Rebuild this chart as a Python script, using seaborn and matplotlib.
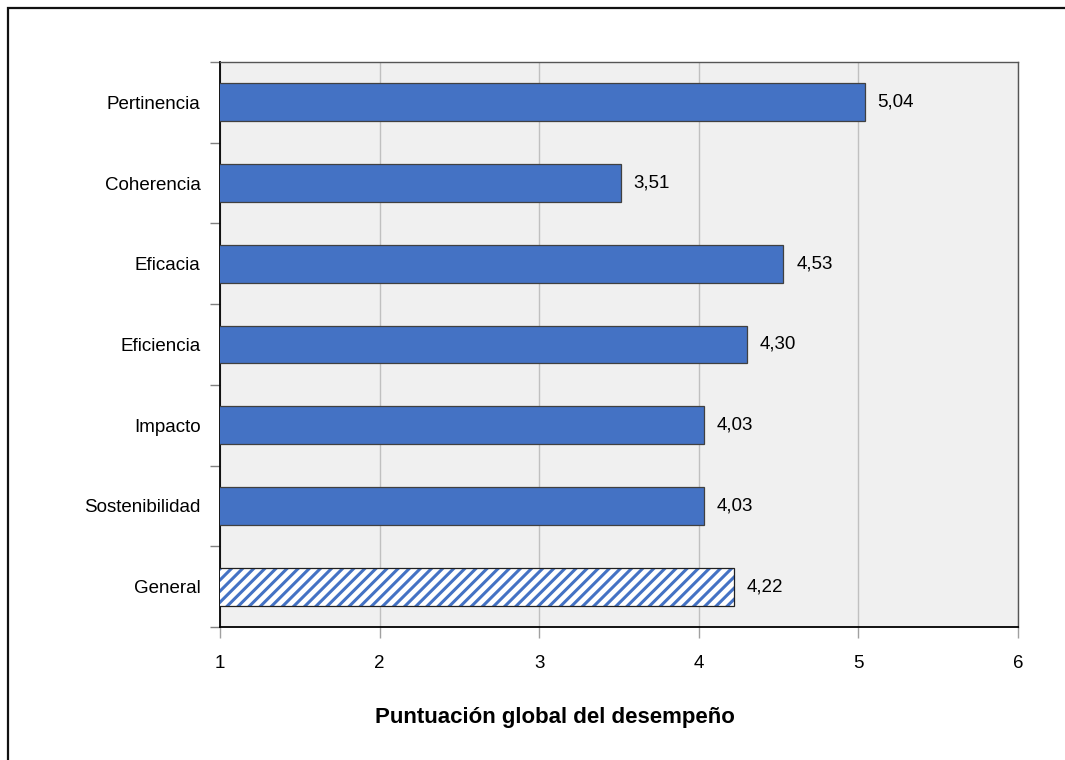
import matplotlib
matplotlib.use("Agg")
import matplotlib.pyplot as plt
import seaborn as sns
import pandas as pd
from matplotlib.patches import Rectangle
from matplotlib import font_manager

categories = ["Pertinencia", "Coherencia", "Eficacia", "Eficiencia", "Impacto", "Sostenibilidad", "General"]
values = [5.04, 3.51, 4.53, 4.30, 4.03, 4.03, 4.22]
x_ticks = [1, 2, 3, 4, 5, 6]
x_label = "Puntuación global del desempeño"

sns.set_style("white")
names = {f.name for f in font_manager.fontManager.ttflist}
fam = "Liberation Sans Narrow" if "Liberation Sans Narrow" in names else "Liberation Sans"
plt.rcParams["font.family"] = [fam, "DejaVu Sans"]
plt.rcParams["hatch.linewidth"] = 2.2
plt.rcParams["text.color"] = "black"
plt.rcParams["xtick.color"] = "black"
plt.rcParams["ytick.color"] = "black"

df = pd.DataFrame({"cat": categories, "val": values})

fig = plt.figure(figsize=(10.65, 7.6), dpi=100)
ax = fig.add_axes([220/1065, 1-627/760, (1018-220)/1065, (627-62)/760])
ax.set_facecolor("#f0f0f0")

blue = "#4472C4"
sns.barplot(data=df, x="val", y="cat", orient="h", color=blue, saturation=1,
            width=0.47, edgecolor="#404040", linewidth=0.9, ax=ax, zorder=3)

ax.set_xlim(1, 6)
ax.set_ylim(len(categories) - 0.5, -0.5)

# hatched "General" bar
p = ax.patches[-1]
p.set_facecolor("white")
p.set_edgecolor(blue)
p.set_hatch("///")
p.set_linewidth(0)
ax.add_patch(Rectangle(p.get_xy(), p.get_width(), p.get_height(), fill=False,
                       edgecolor="#202020", linewidth=0.9, zorder=4))

# value labels
for i, v in enumerate(values):
    ax.text(v + 0.08, i, f"{v:.2f}".replace(".", ","), va="center", ha="left",
            fontsize=13.5, color="black", zorder=5)

ax.set_xticks(x_ticks)
ax.set_xticklabels([str(t) for t in x_ticks], fontsize=13.5)
ax.set_yticks(range(len(categories)))
ax.set_yticklabels(categories, fontsize=13.5)
ax.set_yticks([i - 0.5 for i in range(len(categories) + 1)], minor=True)
ax.tick_params(axis="y", which="major", left=True, length=0, pad=14, labelcolor="black")
ax.tick_params(axis="y", which="minor", left=True, length=7, color="#808080", width=1)
ax.tick_params(axis="x", which="major", bottom=True, length=8, color="#a0a0a0", width=1,
               pad=12, direction="out", labelcolor="black")
ax.set_xlabel("")
ax.set_ylabel("")

ax.grid(axis="x", color="#c0c0c0", linewidth=1, zorder=0)
ax.set_axisbelow(True)

for s in ["left", "bottom"]:
    ax.spines[s].set_color("#000000")
    ax.spines[s].set_linewidth(1.3)
for s in ["top", "right"]:
    ax.spines[s].set_color("#555555")
    ax.spines[s].set_linewidth(1.0)

fig.text(555/1065, 1-718/760, x_label, ha="center", va="center",
         fontsize=16, fontweight="bold", color="black")

# outer frame (top and left edges visible)
fig.patches.append(Rectangle((8/1065, -0.05), 1.2, 1 - 8/760 + 0.05, fill=False,
                             edgecolor="#111111", linewidth=1.6,
                             transform=fig.transFigure, figure=fig))

fig.savefig("out.png", dpi=100)
